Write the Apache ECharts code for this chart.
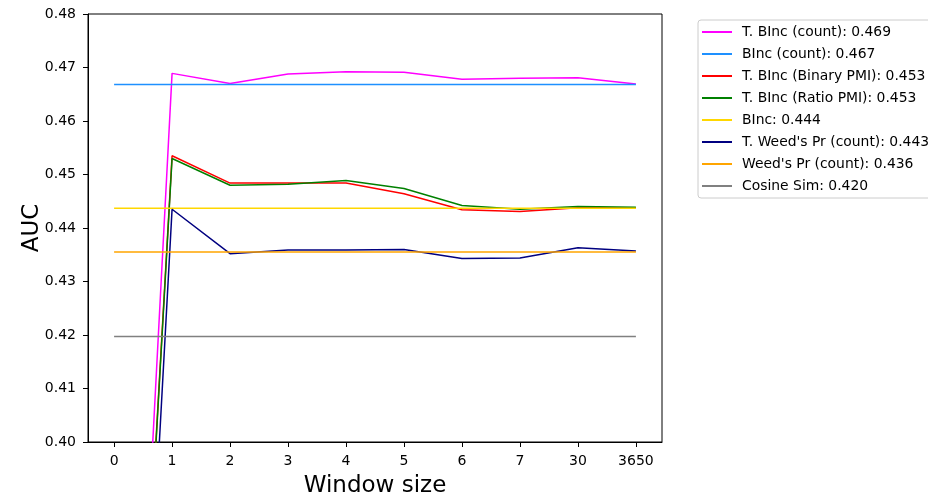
<!DOCTYPE html>
<html>
<head>
<meta charset="utf-8">
<script src="https://cdn.jsdelivr.net/npm/echarts@6/dist/echarts.min.js"></script>
<style>
html,body{margin:0;padding:0;background:#fff;overflow:hidden;}
#c{width:928px;height:497px;}
</style>
</head>
<body>
<div id="c"></div>
<script>
var categories = ['0','1','2','3','4','5','6','7','30','3650'];
var seriesNames = [
  'T. BInc (count): 0.469',
  'BInc (count): 0.467',
  'T. BInc (Binary PMI): 0.453',
  'T. BInc (Ratio PMI): 0.453',
  'BInc: 0.444',
  "T. Weed's Pr (count): 0.443",
  "Weed's Pr (count): 0.436",
  'Cosine Sim: 0.420'
];
var tBIncCount   = [0.262, 0.4689, 0.4670, 0.4688, 0.4692, 0.4691, 0.4678, 0.4680, 0.4681, 0.4669];
var bIncCount    = [0.4668, 0.4668, 0.4668, 0.4668, 0.4668, 0.4668, 0.4668, 0.4668, 0.4668, 0.4668];
var tBIncBinPMI  = [0.262, 0.4535, 0.4484, 0.4484, 0.4484, 0.4464, 0.4434, 0.4431, 0.4438, 0.4438];
var tBIncRatPMI  = [0.261, 0.4530, 0.4480, 0.4482, 0.4489, 0.4474, 0.4442, 0.4435, 0.4440, 0.4439];
var bInc         = [0.4437, 0.4437, 0.4437, 0.4437, 0.4437, 0.4437, 0.4437, 0.4437, 0.4437, 0.4437];
var tWeedsCount  = [0.245, 0.4435, 0.4352, 0.4359, 0.4359, 0.4360, 0.4343, 0.4344, 0.4363, 0.4357];
var weedsCount   = [0.4355, 0.4355, 0.4355, 0.4355, 0.4355, 0.4355, 0.4355, 0.4355, 0.4355, 0.4355];
var cosineSim    = [0.4197, 0.4197, 0.4197, 0.4197, 0.4197, 0.4197, 0.4197, 0.4197, 0.4197, 0.4197];
var yTicks = [0.40, 0.41, 0.42, 0.43, 0.44, 0.45, 0.46, 0.47, 0.48];

var allValues = [tBIncCount, bIncCount, tBIncBinPMI, tBIncRatPMI, bInc, tWeedsCount, weedsCount, cosineSim];
var colors = ['#ff00ff', '#1e90ff', '#ff0000', '#008000', '#ffd700', '#000080', '#ffa500', '#808080'];
var FONT = 'DejaVu Sans';

var series = seriesNames.map(function (name, i) {
  return {
    name: name,
    type: 'line',
    showSymbol: false,
    symbol: 'none',
    clip: true,
    lineStyle: { color: colors[i], width: 1.5 },
    itemStyle: { color: colors[i] },
    data: allValues[i].map(function (v, k) { return [k, v]; }),
    z: 2 + i
  };
});

var chart = echarts.init(document.getElementById('c'), null, { renderer: 'canvas', width: 928, height: 497 });
chart.setOption({
  animation: false,
  backgroundColor: '#fff',
  textStyle: { fontFamily: FONT },
  grid: {
    left: 88, top: 14, width: 574, height: 428,
    outerBoundsMode: 'none',
    containLabel: false,
    show: true, borderColor: '#000', borderWidth: 1, backgroundColor: 'transparent'
  },
  legend: {
    orient: 'vertical',
    left: 698, top: 20,
    padding: [5, 30, 5, 4],
    backgroundColor: '#fff',
    borderColor: '#cccccc',
    borderWidth: 1,
    borderRadius: 3,
    itemWidth: 30,
    itemHeight: 2,
    itemGap: 8,
    icon: 'rect',
    textStyle: { fontFamily: FONT, fontSize: 13.9, color: '#000', lineHeight: 14, padding: [0, 0, 0, 5] },
    data: seriesNames
  },
  xAxis: {
    type: 'value',
    min: -0.45, max: 9.45,
    name: 'Window size',
    nameLocation: 'middle',
    nameGap: 33,
    nameMoveOverlap: false,
    nameTextStyle: { fontFamily: FONT, fontSize: 23, color: '#000' },
    axisLine: { show: true, onZero: false, lineStyle: { color: '#000', width: 1 } },
    axisTick: { show: true, inside: false, length: 5, lineStyle: { color: '#000' }, customValues: categories.map(function (c, i) { return i; }) },
    axisLabel: {
      fontFamily: FONT, fontSize: 14, color: '#000', margin: 12,
      customValues: categories.map(function (c, i) { return i; }),
      formatter: function (v) { return categories[Math.round(v)]; }
    },
    splitLine: { show: false }
  },
  yAxis: {
    type: 'value',
    min: 0.40, max: 0.48, interval: 0.01,
    name: 'AUC',
    nameLocation: 'middle',
    nameGap: 44,
    nameMoveOverlap: false,
    nameTextStyle: { fontFamily: FONT, fontSize: 23, color: '#000' },
    axisLine: { show: true, onZero: false, lineStyle: { color: '#000', width: 1 } },
    axisTick: { show: true, inside: false, length: 5, lineStyle: { color: '#000' } },
    axisLabel: {
      fontFamily: FONT, fontSize: 14, color: '#000', margin: 12,
      customValues: yTicks,
      formatter: function (v) { return v.toFixed(2); }
    },
    splitLine: { show: false }
  },
  series: series
});
</script>
</body>
</html>
